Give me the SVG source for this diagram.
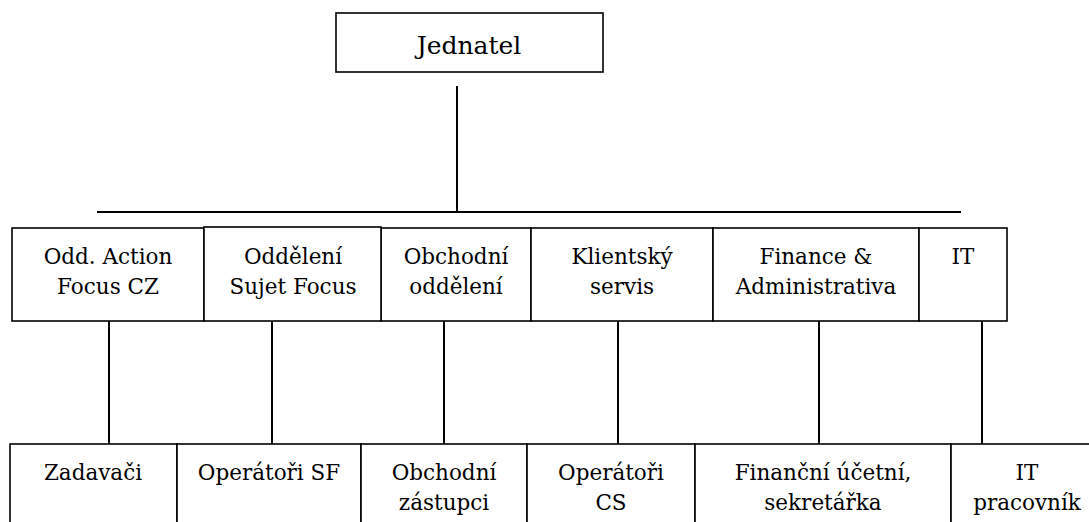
<svg xmlns="http://www.w3.org/2000/svg" width="1089" height="522" viewBox="0 0 1089 522">
<style>
.box{fill:#fff;stroke:#000;stroke-width:1.6}
.ln{stroke:#000;stroke-width:2;fill:none}
.t{font-family:'DejaVu Serif',serif;font-size:21.5px;fill:#000;text-anchor:middle}
.big{font-size:25px}
</style>
<rect width="1089" height="522" fill="#fff"/>
<g id="connectors">
<line class="ln" x1="457" y1="86" x2="457" y2="212"/>
<line class="ln" x1="97" y1="212" x2="961" y2="212"/>
<line class="ln" x1="109" y1="321" x2="109" y2="444"/>
<line class="ln" x1="272" y1="321" x2="272" y2="444"/>
<line class="ln" x1="444" y1="321" x2="444" y2="444"/>
<line class="ln" x1="618" y1="321" x2="618" y2="444"/>
<line class="ln" x1="819" y1="321" x2="819" y2="444"/>
<line class="ln" x1="982" y1="321" x2="982" y2="444"/>
</g>
<g class="t">
<g id="jednatel">
<rect class="box" x="336" y="13" width="267" height="59"/>
<text class="big" x="469" y="54">Jednatel</text>
</g>
<g id="dept-action">
<rect class="box" x="12" y="228" width="192" height="93"/>
<text x="108" y="264">Odd. Action</text>
<text x="108" y="294">Focus CZ</text>
</g>
<g id="dept-obchodni">
<rect class="box" x="381" y="228" width="150" height="93"/>
<text x="456" y="264">Obchodní</text>
<text x="456" y="294">oddělení</text>
</g>
<g id="dept-klient">
<rect class="box" x="531" y="228" width="182" height="93"/>
<text x="622" y="264">Klientský</text>
<text x="622" y="294">servis</text>
</g>
<g id="dept-finance">
<rect class="box" x="713" y="228" width="206" height="93"/>
<text x="816" y="264">Finance &amp;</text>
<text x="816" y="294">Administrativa</text>
</g>
<g id="dept-it">
<rect class="box" x="919" y="228" width="88" height="93"/>
<text x="963" y="264">IT</text>
</g>
<g id="dept-sujet">
<rect class="box" x="204" y="227" width="177" height="94"/>
<text x="293" y="264">Oddělení</text>
<text x="293" y="294">Sujet Focus</text>
</g>
<g id="staff-zadavaci">
<rect class="box" x="10" y="444" width="167" height="90"/>
<text x="93" y="480">Zadavači</text>
</g>
<g id="staff-opsf">
<rect class="box" x="177" y="444" width="184" height="90"/>
<text x="269" y="480">Operátoři SF</text>
</g>
<g id="staff-obchodni">
<rect class="box" x="361" y="444" width="166" height="90"/>
<text x="444" y="480">Obchodní</text>
<text x="444" y="510">zástupci</text>
</g>
<g id="staff-opcs">
<rect class="box" x="527" y="444" width="168" height="90"/>
<text x="611" y="480">Operátoři</text>
<text x="611" y="510">CS</text>
</g>
<g id="staff-finance">
<rect class="box" x="695" y="444" width="256" height="90"/>
<text x="823" y="480">Finanční účetní,</text>
<text x="823" y="510">sekretářka</text>
</g>
<g id="staff-it">
<rect class="box" x="951" y="444" width="160" height="90"/>
<text x="1027" y="480">IT</text>
<text x="1027" y="510">pracovník</text>
</g>
</g>
</svg>
